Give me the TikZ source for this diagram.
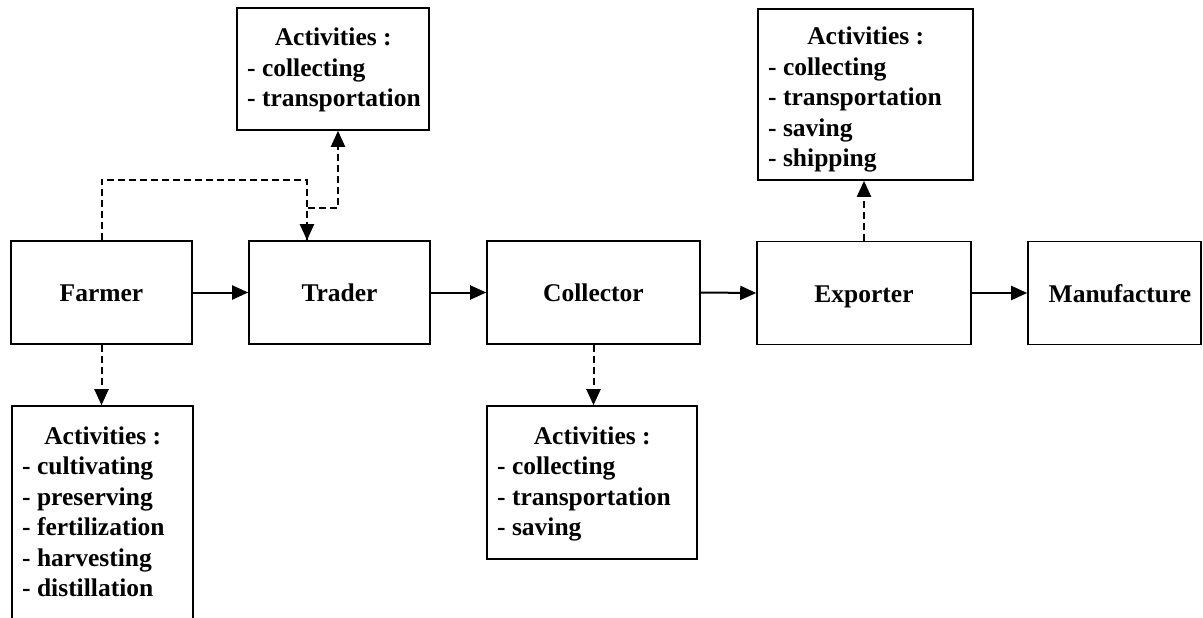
\documentclass[tikz,border=0pt]{standalone}
\usepackage{fontspec}
\setmainfont{Liberation Serif}
\usetikzlibrary{arrows.meta}
\tikzset{
  box/.style={draw, line width=1.6pt, inner sep=0pt, minimum height=103pt, text height=20pt, text depth=2pt},
  actbox/.style={draw, line width=1.6pt, inner sep=0pt},
  lbl/.style={font=\fontsize{25.5pt}{30.5pt}\selectfont\bfseries},
  acttext/.style={anchor=base west, inner sep=0pt, align=left, font=\fontsize{25.5pt}{30.5pt}\selectfont\bfseries},
  flow/.style={line width=2pt, -{Triangle[length=16pt,width=14pt]}},
  dsh/.style={line width=2pt, dash pattern=on 7pt off 4pt, -{Triangle[length=16pt,width=14pt]}},
}
\begin{document}
\begin{tikzpicture}[x=1pt,y=-1pt]
\useasboundingbox (0,0) rectangle (1203,618);
% main chain
\node[box, minimum width=181pt, lbl] (farmer) at (101.5,292.5) {Farmer};
\node[box, minimum width=181pt, lbl] (trader) at (339.5,292.5) {Trader};
\node[box, minimum width=213pt, lbl] (collector) at (593.5,292.5) {Collector};
\node[box, minimum width=214pt, lbl] (exporter) at (864,293) {Exporter};
\node[box, minimum width=173pt, lbl] (manufacture) at (1114.5,293) {\hspace*{11pt}Manufacture};
% activities boxes
\node[actbox, minimum width=192pt, minimum height=122pt] (trAct) at (333,69) {};
\node[acttext] (trActT) at (247,46) {\parbox[t]{300pt}{\raggedright\makebox[172pt][c]{Activities :}\\- collecting\\- transportation}};
\node[actbox, minimum width=215pt, minimum height=171pt] (exAct) at (865.5,94.5) {};
\node[acttext] (exActT) at (768,45) {\parbox[t]{300pt}{\raggedright\makebox[195pt][c]{Activities :}\\- collecting\\- transportation\\- saving\\- shipping}};
\node[actbox, minimum width=210pt, minimum height=153pt] (coAct) at (592,482.5) {};
\node[acttext] (coActT) at (497,444) {\parbox[t]{300pt}{\raggedright\makebox[190pt][c]{Activities :}\\- collecting\\- transportation\\- saving}};
\node[actbox, minimum width=181pt, minimum height=240pt] (faAct) at (102.5,526) {};
\node[acttext] (faActT) at (22,444) {\parbox[t]{300pt}{\raggedright\makebox[161pt][c]{Activities :}\\- cultivating\\- preserving\\- fertilization\\- harvesting\\- distillation}};
% solid flow
\draw[flow] (farmer.east) -- (trader.west);
\draw[flow] (trader.east) -- (collector.west);
\draw[flow] (collector.east) -- (exporter.west);
\draw[flow] (exporter.east) -- (manufacture.west);
% dashed links
\coordinate (f1) at (101.5,180);
\coordinate (f2) at (307,180);
\draw[dsh] (farmer.north) -- (f1) -- (f2) -- (f2 |- trader.north);
\coordinate (t1) at (307,208);
\coordinate (t2) at (338,208);
\draw[dsh] (t1 |- trader.north) -- (t1) -- (t2) -- (t2 |- trAct.south);
\draw[dsh] (farmer.south) -- (farmer.south |- faAct.north);
\draw[dsh] (collector.south) -- (collector.south |- coAct.north);
\draw[dsh] (exporter.north) -- (exporter.north |- exAct.south);
\end{tikzpicture}
\end{document}
